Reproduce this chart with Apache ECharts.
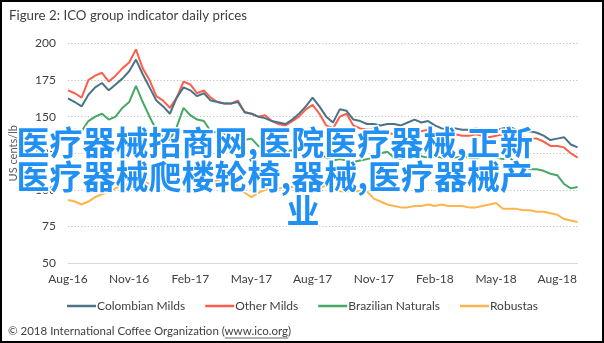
<!DOCTYPE html>
<html><head><meta charset="utf-8">
<script src="https://cdn.jsdelivr.net/npm/echarts@6/dist/echarts.min.js"></script>
<style>
html,body{margin:0;padding:0;background:#fff;}
#wrap{position:relative;width:604px;height:343px;overflow:hidden;}
#chart{position:absolute;left:0;top:0;width:604px;height:343px;}
#frame{position:absolute;left:0;top:0;width:604px;height:343px;box-sizing:border-box;border:2px solid #000;pointer-events:none;}
</style></head><body>
<div id="wrap"><div id="chart"></div><div id="frame"></div></div>
<script>
// ---- data ----
const titleText = 'Figure 2: ICO group indicator daily prices';
const yAxisName = 'US cents/lb';
const footerPrefix = '\u00A9 2018 International Coffee Organization (';
const footerLink = 'www.ico.org';
const footerSuffix = ')';
const overlayLines = ['医疗器械招商网,医院医疗器械,正新', '医疗器械爬楼轮椅,器械,医疗器械产', '业'];
const seriesNames = ['Colombian Milds', 'Other Milds', 'Brazilian Naturals', 'Robustas'];
const tickLabels = ['Aug-16','Nov-16','Feb-17','May-17','Aug-17','Nov-17','Feb-18','May-18','Aug-18'];
const yTicks = [50, 75, 100, 125, 150, 175, 200];

// observation dates: 1st, 11th, 21st of each month, Aug 2016 .. Sep 1 2018
const categories = [];
for (let m = 0; m < 26; m++) {
  for (const d of [1, 11, 21]) {
    const y = 2016 + Math.floor((7 + m) / 12);
    const mo = (7 + m) % 12 + 1;
    categories.push(y + '-' + String(mo).padStart(2, '0') + '-' + String(d).padStart(2, '0'));
    if (categories.length === 76) break;
  }
  if (categories.length === 76) break;
}

const colombianMilds = [162.5,160,157,165,170,173,168,172,176,181,189,179,170,161,157,152,163,170,168,164,
  166,161,160,159,159,160,153,152,150,149,147,146,145,148,152,157,163,157,150,146,
  155,154,148,147,145,145,144,145,145,144,146,148,146,147,144,142,141,142,141,141,
  142,141,140,141,142,143,141,140,140,139,137,134,135,136,131,129];
const otherMilds = [168,166,163,175,178,180,174,178,183,187,196,183,175,164,161,156,163,174,172,166,
  168,163,160,159,159,161,153,152,150,151,147,145,144,147,150,155,158,152,144,142,
  150,152,144,142,141,141,140,139,138,139,140,141,140,141,139,138,137,138,137,137,
  138,137,136,137,138,138,137,136,135,135,133,130,130,129,125,122];
const brazilianNaturals = [140,141,140,147,150,152,148,150,156,160,171,160,150,141,136,134,143,156,151,148,
  147,140,139,138,141,139,134,135,130,127,125,126,126,127,128,131,128,125,122,120,
  121,120,119,120,121,122,125,126,122,121,124,123,123,122,123,122,123,122,123,122,
  121,123,124,122,121,122,118,116,114,114,113,111,110,104,101,102];
const robustas = [93,92,90,92,95,97,99,101,103,104,105,106,104,104,106,104,108,107,106,105,
  107,106,106,108,107,102,98,95,98,100,101,101,102,102,101,101,102,101,103,103,
  99,99,99,99,99,94,92,90,89,88,88,89,89,90,89,90,89,89,89,88,
  88,89,90,91,87,87,87,86,86,85,85,84,83,80,79,78];
const seriesValues = [colombianMilds, otherMilds, brazilianNaturals, robustas];
const seriesColors = ['#4a7389', '#fb5e4a', '#47a764', '#ffb54c'];

// ---- chart ----
const latin = 'Lato, "Liberation Sans", sans-serif';
const chart = echarts.init(document.getElementById('chart'), null, {renderer: 'canvas'});

const ctx = document.createElement('canvas').getContext('2d');
const footerFont = '11.5px Lato';
ctx.font = footerFont;
const footX = 8, footY = 332;
const prefixW = ctx.measureText(footerPrefix).width;
const linkW = ctx.measureText(footerLink).width;

const overlayStyle = {
  fill: '#2090f5', stroke: '#ffffff', lineWidth: 3,
  font: 'bold 33px "Noto Sans CJK SC"', textVerticalAlign: 'top'
};

chart.setOption({
  animation: false,
  backgroundColor: '#ffffff',
  title: {
    text: titleText, left: 4, top: 4,
    textStyle: {fontFamily: latin, fontSize: 13.3, fontWeight: 'normal', color: '#404040'}
  },
  grid: {left: 67.6, right: 26.4, top: 43.5, bottom: 80, containLabel: false},
  legend: {
    data: seriesNames, top: 295, left: 62, icon: 'rect',
    itemWidth: 29, itemHeight: 2.5, itemGap: 20,
    textStyle: {fontFamily: latin, fontSize: 12, color: '#404040', padding: [0, 0, 0, -4]}
  },
  xAxis: {
    type: 'category', data: categories, boundaryGap: false,
    axisLine: {show: true, lineStyle: {color: '#d9d9d9', width: 1}},
    axisTick: {show: false},
    axisLabel: {
      interval: (idx) => idx % 9 === 0,
      formatter: (v, idx) => tickLabels[idx / 9] || '',
      margin: 10, fontFamily: latin, fontSize: 12, color: '#404040'
    },
    splitLine: {show: false}
  },
  yAxis: {
    type: 'value', min: yTicks[0], max: yTicks[yTicks.length - 1], interval: 25,
    name: yAxisName, nameLocation: 'middle', nameGap: 49,
    nameTextStyle: {fontFamily: latin, fontSize: 11, color: '#595959'},
    axisLine: {show: false}, axisTick: {show: false},
    axisLabel: {margin: 12, fontFamily: latin, fontSize: 12, color: '#404040'},
    splitLine: {show: true, lineStyle: {color: '#c4c4c4', width: 1, type: [1.3, 2]}}
  },
  series: seriesNames.map((n, k) => ({
    name: n, type: 'line', data: seriesValues[k], showSymbol: false, symbol: 'none',
    lineStyle: {color: seriesColors[k], width: 2}, itemStyle: {color: seriesColors[k]},
    z: 10 - k
  })),
  graphic: [
    {type: 'text', left: 15, top: 124, z: 100, style: Object.assign({text: overlayLines[0]}, overlayStyle)},
    {type: 'text', left: 15, top: 158, z: 100, style: Object.assign({text: overlayLines[1]}, overlayStyle)},
    {type: 'text', left: 285, top: 192, z: 100, style: Object.assign({text: overlayLines[2]}, overlayStyle)},
    {type: 'text', left: footX, top: footY - 7, z: 50,
      style: {text: footerPrefix + footerLink + footerSuffix, font: footerFont, fill: '#404040'}},
    {type: 'line', z: 50, shape: {x1: footX + prefixW, y1: footY + 6, x2: footX + prefixW + linkW, y2: footY + 6},
      style: {stroke: '#404040', lineWidth: 0.8}}
  ]
});
</script>
</body></html>
